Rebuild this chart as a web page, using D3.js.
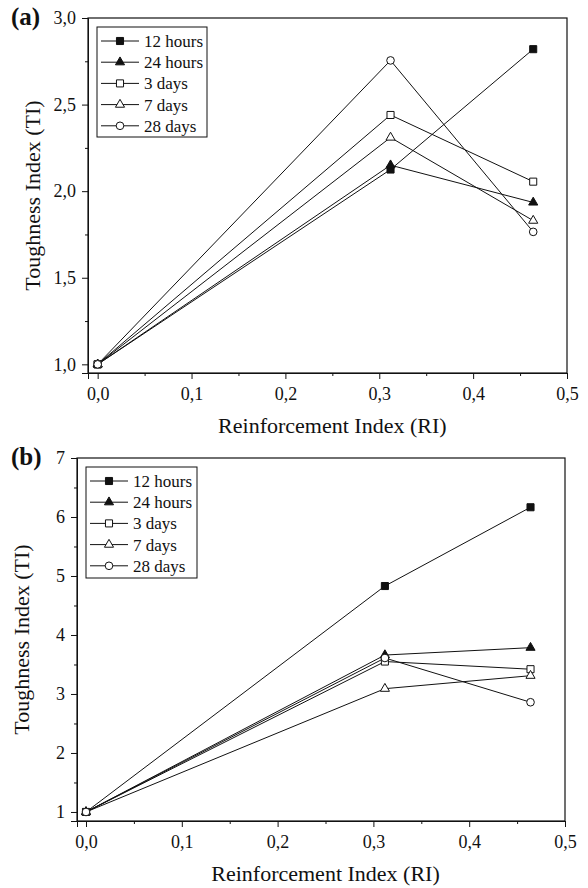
<!DOCTYPE html>
<html>
<head>
<meta charset="utf-8">
<script src="https://cdn.jsdelivr.net/npm/d3@7/dist/d3.min.js"></script>
<style>
  body { margin: 0; background: #fff; }
  svg { display: block; font-family: "Liberation Serif", "Times New Roman", serif; }
</style>
</head>
<body>
<svg id="chart" width="588" height="888"></svg>
<script>
// Reinforcement index of the three mixes
const reinforcement = [0, 0.312, 0.464];

// Curing ages (series)
const ages = ["12 hours", "24 hours", "3 days", "7 days", "28 days"];
const markers = ["squareFilled", "triangleFilled", "squareOpen", "triangleOpen", "circleOpen"];

// Panel (a) toughness index per curing age
const toughnessA12h = [1.0, 2.125, 2.82];
const toughnessA24h = [1.0, 2.15, 1.935];
const toughnessA3d  = [1.0, 2.44, 2.055];
const toughnessA7d  = [1.0, 2.31, 1.83];
const toughnessA28d = [1.0, 2.755, 1.765];

// Panel (b) toughness index per curing age
const toughnessB12h = [1.0, 4.83, 6.165];
const toughnessB24h = [1.0, 3.66, 3.785];
const toughnessB3d  = [1.0, 3.55, 3.42];
const toughnessB7d  = [1.0, 3.09, 3.31];
const toughnessB28d = [1.0, 3.61, 2.86];

// Tick values
const xTicks = [0, 0.1, 0.2, 0.3, 0.4, 0.5];
const xMinorTicks = [0.05, 0.15, 0.25, 0.35, 0.45];
const yTicksA = [1.0, 1.5, 2.0, 2.5, 3.0];
const yMinorTicksA = [1.25, 1.75, 2.25, 2.75];
const yTicksB = [1, 2, 3, 4, 5, 6, 7];
const yMinorTicksB = [1.5, 2.5, 3.5, 4.5, 5.5, 6.5];

const comma = d3.formatLocale({decimal: ",", thousands: ".", grouping: [3], currency: ["", ""]});
const fmt1 = comma.format(".1f");
const fmt0 = comma.format("d");

const svg = d3.select("#chart");
const serif = "Liberation Serif, Times New Roman, serif";

function drawPanel(opt) {
  const g = svg.append("g");
  const x = d3.scaleLinear().domain(opt.xDomain).range([opt.left, opt.right]);
  const y = d3.scaleLinear().domain(opt.yDomain).range([opt.bottom, opt.top]);

  // frame
  g.append("rect")
    .attr("x", opt.left).attr("y", opt.top)
    .attr("width", opt.right - opt.left).attr("height", opt.bottom - opt.top)
    .attr("fill", "none").attr("stroke", "#111").attr("stroke-width", 1.2);

  // x axis with minor ticks
  g.append("g").attr("transform", `translate(0,${opt.bottom})`)
    .call(d3.axisBottom(x).tickValues(xTicks).tickFormat(fmt1).tickSize(6).tickPadding(8));
  g.append("g").attr("transform", `translate(0,${opt.bottom})`)
    .call(d3.axisBottom(x).tickValues(xMinorTicks).tickFormat("").tickSize(3))
    .select(".domain").remove();

  // y axis with minor ticks
  g.append("g").attr("transform", `translate(${opt.left},0)`)
    .call(d3.axisLeft(y).tickValues(opt.yTicks).tickFormat(opt.yFmt).tickSize(6).tickPadding(6));
  g.append("g").attr("transform", `translate(${opt.left},0)`)
    .call(d3.axisLeft(y).tickValues(opt.yMinor).tickFormat("").tickSize(3))
    .select(".domain").remove();

  g.selectAll(".tick text").attr("font-size", 18).attr("fill", "#111")
    .attr("font-family", serif);
  g.selectAll(".tick line, .domain").attr("stroke", "#111");

  // series lines, then markers on top
  opt.series.forEach(vals => {
    const pts = reinforcement.map((r, j) => [x(r), y(vals[j])]);
    g.append("path")
      .attr("d", d3.line()(pts))
      .attr("fill", "none").attr("stroke", "#111").attr("stroke-width", 1);
  });
  opt.series.forEach((vals, i) => {
    reinforcement.forEach((r, j) => drawMarker(g, markers[i], x(r), y(vals[j])));
  });

  // legend
  const lg = g.append("g");
  lg.append("rect")
    .attr("x", opt.legend.x).attr("y", opt.legend.y)
    .attr("width", opt.legend.w).attr("height", opt.legend.h)
    .attr("fill", "#fff").attr("stroke", "#111").attr("stroke-width", 1);
  ages.forEach((a, i) => {
    const cy = opt.legend.y + 14 + i * 21.2;
    const x0 = opt.legend.x + 4, x1 = x0 + 38;
    lg.append("line").attr("x1", x0).attr("x2", x1).attr("y1", cy).attr("y2", cy)
      .attr("stroke", "#111").attr("stroke-width", 1);
    drawMarker(lg, markers[i], (x0 + x1) / 2, cy);
    lg.append("text").attr("x", x1 + 5).attr("y", cy).attr("dy", "0.35em")
      .attr("font-size", 17).attr("fill", "#111").attr("font-family", serif).text(a);
  });

  // axis titles
  g.append("text")
    .attr("x", (x(0) + x(0.5)) / 2).attr("y", opt.bottom + 60)
    .attr("text-anchor", "middle").attr("font-size", 22).attr("fill", "#111")
    .attr("font-family", serif)
    .text("Reinforcement Index (RI)");
  g.append("text")
    .attr("transform", `translate(${opt.left - 48},${(opt.top + opt.bottom) / 2}) rotate(-90)`)
    .attr("text-anchor", "middle").attr("font-size", 22).attr("fill", "#111")
    .attr("font-family", serif)
    .text("Toughness Index (TI)");

  // panel label
  g.append("text")
    .attr("x", 11).attr("y", opt.top + 7)
    .attr("font-size", 25).attr("font-weight", "bold").attr("fill", "#111")
    .attr("font-family", serif)
    .text(opt.label);
}

function drawMarker(g, type, cx, cy) {
  const filled = type.endsWith("Filled");
  let sym;
  if (type.startsWith("square")) sym = d3.symbol(d3.symbolSquare, 50);
  else if (type.startsWith("triangle")) sym = d3.symbol(d3.symbolTriangle, 36);
  else sym = d3.symbol(d3.symbolCircle, 46);
  g.append("path")
    .attr("d", sym())
    .attr("transform", `translate(${cx},${cy})`)
    .attr("fill", filled ? "#111" : "#fff")
    .attr("stroke", "#111").attr("stroke-width", 1);
}

drawPanel({
  label: "(a)",
  left: 88, right: 567, top: 18, bottom: 373,
  xDomain: [-0.0103, 0.5], yDomain: [0.95, 3.0],
  yTicks: yTicksA, yMinor: yMinorTicksA, yFmt: fmt1,
  series: [toughnessA12h, toughnessA24h, toughnessA3d, toughnessA7d, toughnessA28d],
  legend: {x: 97, y: 27, w: 110, h: 110}
});

drawPanel({
  label: "(b)",
  left: 77, right: 565, top: 458, bottom: 821,
  xDomain: [-0.0094, 0.5], yDomain: [0.847, 7.0],
  yTicks: yTicksB, yMinor: yMinorTicksB, yFmt: fmt0,
  series: [toughnessB12h, toughnessB24h, toughnessB3d, toughnessB7d, toughnessB28d],
  legend: {x: 86, y: 467, w: 111, h: 111}
});
</script>
</body>
</html>
